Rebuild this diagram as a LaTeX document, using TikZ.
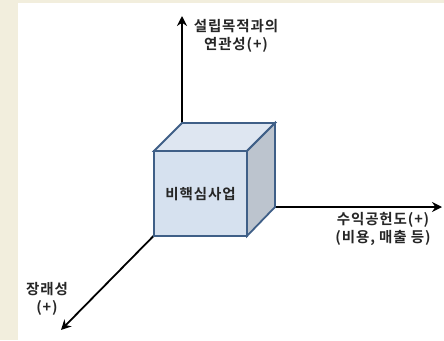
\documentclass[tikz,border=0pt]{standalone}
\usepackage{fontspec}
\usepackage{tikz}
\usetikzlibrary{arrows.meta,positioning}
\newfontfamily\kr{Noto Sans CJK KR}[BoldFont={Noto Sans CJK KR Bold}, LetterSpace=6]
\definecolor{bgbeige}{HTML}{F2EEDD}
\definecolor{cubeedge}{HTML}{3F5F87}
\definecolor{cubefront}{HTML}{D6E1EF}
\definecolor{cubetop}{HTML}{DEE6F1}
\definecolor{cubeside}{HTML}{BCC4CE}

\begin{document}
\begin{tikzpicture}[x=1pt, y=-1pt,
  axis/.style={black, line width=1.8pt, -{Stealth[length=10pt, width=10pt]}},
  face/.style={draw=cubeedge, line width=1.8pt, line join=miter},
  lbl/.style={font=\kr\bfseries\fontsize{14.5}{18.5}\selectfont, align=center, inner sep=0pt, text=black!85},
]
% frame: beige strip left and top, white panel
\fill[bgbeige] (0,0) rectangle (444,340);
\fill[white] (18,3) rectangle (444,340);
\useasboundingbox (0,0) rectangle (444,340);

% axis origin and tips (origin = back bottom-left corner of the cube)
\coordinate (o) at (182,207);
\coordinate (up) at (182,16);
\coordinate (right) at (442,207);
\coordinate (down) at (61,330);
\draw[axis] (o) -- (up);
\draw[axis] (o) -- (right);
\draw[axis] (o) -- (down);

% cube: front 93x86, depth offset (28,-29)
\fill[cubefront] (154,151) rectangle (247,236);
\draw[face, fill=cubetop] (154,151) -- (182,123) -- (275,123) -- (247,151) -- cycle;
\draw[face, fill=cubeside] (247,151) -- (275,123) -- (275,207) -- (247,236) -- cycle;
\draw[face, fill=cubefront] (154,151) rectangle (247,236);
\node[lbl] (core) at (200.5,194) {비핵심사업};

% axis labels
\node[lbl, anchor=north] (purpose) at (236,19) {설립목적과의\\연관성(+)};
\node[lbl, anchor=north] (profit) at (383,212) {수익공헌도(+)\\(비용, 매출 등)};
\node[lbl, anchor=north] (future) at (47,282) {장래성\\(+)};
\end{tikzpicture}
\end{document}
